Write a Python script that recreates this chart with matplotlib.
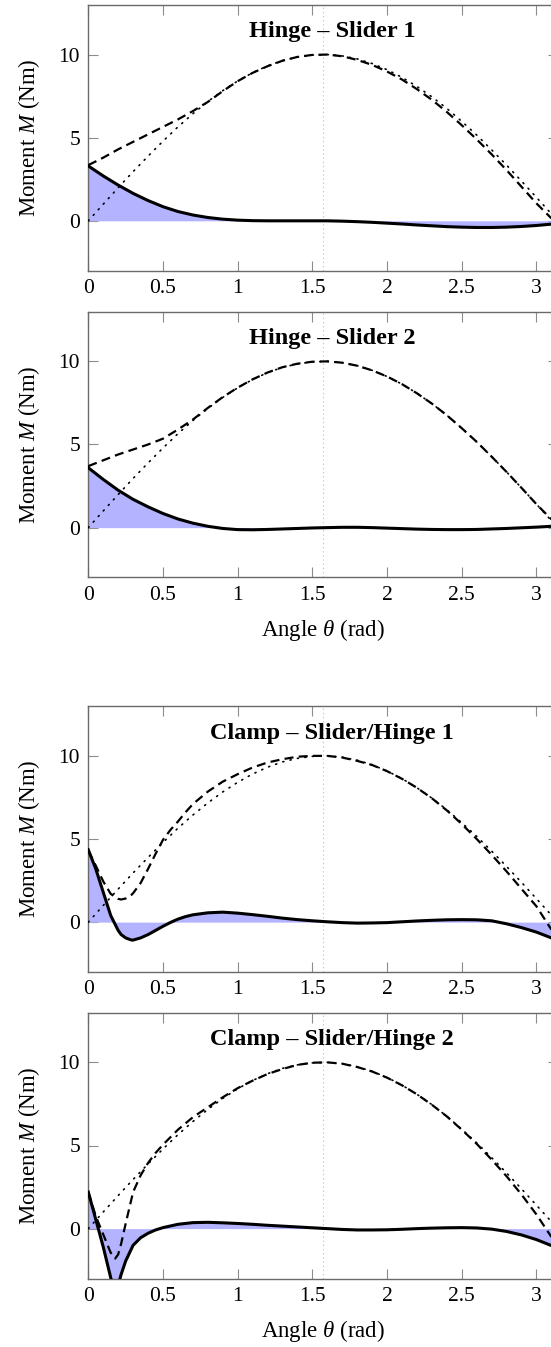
import numpy as np
import matplotlib
matplotlib.use("Agg")
import matplotlib.pyplot as plt

plt.rcParams["font.family"] = ["Liberation Serif", "DejaVu Serif"]
plt.rcParams["mathtext.fontset"] = "custom"
plt.rcParams["mathtext.rm"] = "Liberation Serif"
plt.rcParams["mathtext.it"] = "Liberation Serif:italic"
plt.rcParams["mathtext.bf"] = "Liberation Serif:bold"
plt.rcParams["lines.scale_dashes"] = False

# ---- data -----------------------------------------------------------------
theta = [0.0, 0.1, 0.2, 0.3, 0.4, 0.5, 0.6, 0.7, 0.8, 0.9, 1.0, 1.1, 1.2,
         1.3, 1.4, 1.5, 1.6, 1.7, 1.8, 1.9, 2.0, 2.1, 2.2, 2.3, 2.4, 2.5,
         2.6, 2.7, 2.8, 2.9, 3.0, 3.1]

# dotted reference moment (same in every panel)
ref_moment = [0.0, 1.0, 1.99, 2.96, 3.89, 4.79, 5.65, 6.44, 7.17, 7.83,
              8.41, 8.91, 9.32, 9.64, 9.85, 9.97, 10.0, 9.92, 9.74, 9.46,
              9.09, 8.63, 8.08, 7.46, 6.76, 5.98, 5.16, 4.27, 3.35, 2.39,
              1.41, 0.42]

titles = ["Hinge – Slider 1", "Hinge – Slider 2",
          "Clamp – Slider/Hinge 1", "Clamp – Slider/Hinge 2"]

# Hinge - Slider 1
hs1_theta = theta
hs1_dashed = [3.35, 3.8, 4.3, 4.75, 5.2, 5.65, 6.1, 6.6, 7.15, 7.8, 8.4,
              8.9, 9.3, 9.63, 9.86, 9.98, 10.0, 9.9, 9.68, 9.38, 8.98, 8.5,
              7.92, 7.28, 6.55, 5.75, 4.9, 4.0, 3.05, 2.05, 1.05, 0.15]
hs1_solid = [3.3, 2.7, 2.15, 1.65, 1.22, 0.85, 0.56, 0.35, 0.2, 0.1, 0.04,
             0.01, 0.0, 0.0, 0.0, 0.0, 0.0, -0.02, -0.05, -0.09, -0.14,
             -0.19, -0.25, -0.3, -0.35, -0.38, -0.4, -0.4, -0.38, -0.34,
             -0.28, -0.2]

# Hinge - Slider 2
hs2_theta = theta
hs2_dashed = [3.7, 4.05, 4.4, 4.7, 5.0, 5.35, 5.9, 6.5, 7.2, 7.85, 8.42,
              8.92, 9.33, 9.65, 9.86, 9.98, 10.0, 9.92, 9.74, 9.46, 9.09,
              8.63, 8.08, 7.46, 6.76, 5.98, 5.16, 4.27, 3.35, 2.39, 1.41, 0.5]
hs2_solid = [3.6, 2.9, 2.25, 1.7, 1.25, 0.85, 0.52, 0.27, 0.08, -0.05,
             -0.12, -0.13, -0.11, -0.08, -0.05, -0.02, 0.0, 0.02, 0.02, 0.0,
             -0.03, -0.06, -0.09, -0.11, -0.12, -0.12, -0.11, -0.08, -0.05,
             -0.01, 0.03, 0.08]

# Clamp - Slider/Hinge 1
cs1_theta = [0.0, 0.05, 0.1, 0.15, 0.2, 0.22, 0.25, 0.29, 0.3, 0.35, 0.4,
             0.45, 0.5, 0.55, 0.6, 0.65, 0.7, 0.8, 0.9, 1.0, 1.1, 1.2, 1.3,
             1.4, 1.5, 1.6, 1.7, 1.8, 1.9, 2.0, 2.1, 2.2, 2.3, 2.4, 2.5, 2.6,
             2.7, 2.8, 2.9, 3.0, 3.1]
cs1_dashed = [4.3, 3.4, 2.45, 1.7, 1.4, 1.36, 1.42, 1.65, 1.74, 2.35, 3.2,
              4.1, 4.95, 5.55, 6.05, 6.6, 7.1, 7.85, 8.45, 8.9, 9.3, 9.6,
              9.8, 9.95, 10.0, 10.0, 9.9, 9.7, 9.45, 9.08, 8.62, 8.08, 7.45,
              6.72, 5.9, 5.0, 4.05, 3.05, 2.0, 0.95, -0.45]
cs1_solid = [4.35, 3.2, 1.8, 0.4, -0.5, -0.75, -0.95, -1.08, -1.08, -0.95,
             -0.75, -0.5, -0.25, -0.02, 0.18, 0.33, 0.44, 0.56, 0.6, 0.54,
             0.45, 0.35, 0.24, 0.15, 0.08, 0.02, -0.03, -0.06, -0.05, -0.03,
             0.02, 0.07, 0.11, 0.14, 0.15, 0.14, 0.08, -0.1, -0.33, -0.6,
             -0.95]

# Clamp - Slider/Hinge 2
cs2_theta = [0.0, 0.05, 0.1, 0.15, 0.18, 0.2, 0.22, 0.25, 0.3, 0.35, 0.4,
             0.45, 0.5, 0.55, 0.6, 0.7, 0.8, 0.9, 1.0, 1.1, 1.2, 1.3, 1.4,
             1.5, 1.6, 1.7, 1.8, 1.9, 2.0, 2.1, 2.2, 2.3, 2.4, 2.5, 2.6,
             2.7, 2.8, 2.9, 3.0, 3.1]
cs2_dashed = [2.2, 0.75, -0.35, -1.45, -1.8, -1.55, -0.9, 0.3, 2.2, 3.2,
              3.95, 4.55, 5.05, 5.5, 5.95, 6.7, 7.3, 7.9, 8.45, 8.9, 9.3,
              9.6, 9.85, 9.98, 10.0, 9.92, 9.72, 9.45, 9.08, 8.62, 8.08,
              7.45, 6.75, 5.95, 5.1, 4.15, 3.15, 2.05, 0.85, -0.5]
cs2_solid = [2.2, 0.55, -1.1, -2.95, -4.0, -3.4, -2.75, -1.95, -1.0, -0.55,
             -0.28, -0.08, 0.06, 0.16, 0.26, 0.36, 0.38, 0.35, 0.31, 0.26,
             0.2, 0.15, 0.1, 0.05, 0.0, -0.05, -0.08, -0.08, -0.07, -0.04,
             0.0, 0.03, 0.05, 0.06, 0.04, -0.03, -0.17, -0.38, -0.66, -1.02]

panels = [
    (hs1_theta, hs1_dashed, hs1_solid),
    (hs2_theta, hs2_dashed, hs2_solid),
    (cs1_theta, cs1_dashed, cs1_solid),
    (cs2_theta, cs2_dashed, cs2_solid),
]

# ---- layout ---------------------------------------------------------------
W, H = 551, 1347
fig = plt.figure(figsize=(W / 100, H / 100), dpi=100)

left_px, right_px = 88.3, 557.6
tops = [4.7, 311.5, 706.0, 1012.5]
axh = 266.0

fill_color = "#b3b3ff"
spine_color = "#6a6a6a"
tick_color = "#8c8c8c"

for i, (th, dashed, solid) in enumerate(panels):
    top = tops[i]
    ax = fig.add_axes([left_px / W, 1 - (top + axh) / H,
                       (right_px - left_px) / W, axh / H])
    ax.set_xlim(0, np.pi)
    ax.set_ylim(-3, 13)

    ax.axvline(np.pi / 2, color="#c8c8c8", lw=0.8, ls=(0, (1, 2)), zorder=1)

    ax.fill_between(th, solid, 0, color=fill_color, lw=0, zorder=2)
    ax.plot(theta, ref_moment, color="black", lw=1.2,
            ls=(0, (0.8, 4.6)), dash_capstyle="round", zorder=3)
    ax.plot(th, dashed, color="black", lw=1.6, ls=(0, (6.5, 3.8)), zorder=4)
    ax.plot(th, solid, color="black", lw=2.2, zorder=5)

    ax.set_xticks([0, 0.5, 1, 1.5, 2, 2.5, 3])
    ax.set_xticklabels(["0", "0.5", "1", "1.5", "2", "2.5", "3"])
    ax.set_yticks([0, 5, 10])
    ax.tick_params(direction="in", length=7.0, width=0.8, color=tick_color,
                   top=True, right=True, labelsize=15.5, pad=6)
    for s in ax.spines.values():
        s.set_color(spine_color)
        s.set_linewidth(1.0)

    ax.set_ylabel("Moment $M$ (Nm)", fontsize=16.5, labelpad=12)
    if i in (1, 3):
        ax.set_xlabel(r"Angle $\theta$ (rad)", fontsize=16.5, labelpad=9)

    ax.text(0.52, 0.898, titles[i], transform=ax.transAxes, ha="center",
            va="center", fontsize=17.5, fontweight="bold", zorder=6)

fig.savefig("out.png", dpi=100)
